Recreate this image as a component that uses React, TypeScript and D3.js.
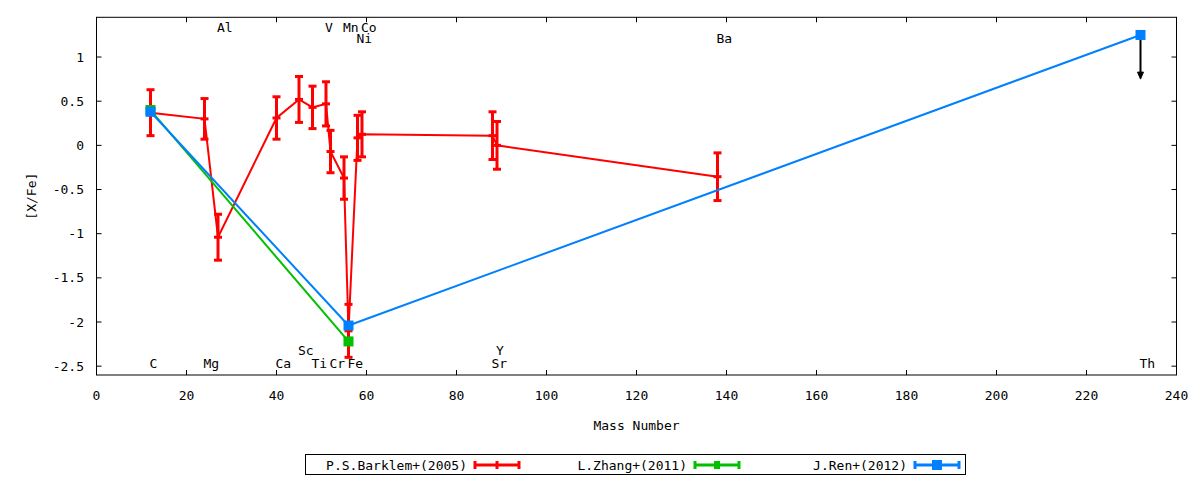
import React from 'react';
import * as d3 from 'd3';

// ---- data ----
const barklemMass = [12, 24, 27, 40, 45, 48, 51, 52, 55, 56, 58, 59, 88, 89, 138];
const barklemValue = [0.37, 0.30, -1.04, 0.31, 0.52, 0.43, 0.47, -0.07, -0.37, -2.10, 0.085, 0.125, 0.11, 0.0, -0.355];
const barklemError = [0.26, 0.23, 0.26, 0.24, 0.26, 0.24, 0.25, 0.24, 0.24, 0.30, 0.255, 0.255, 0.27, 0.27, 0.27];

const zhangMass = [12, 56];
const zhangValue = [0.40, -2.22];

const renMass = [12, 56, 232];
const renValue = [0.38, -2.04, 1.25];
const renUpperLimit = [false, false, true];
const upperLimitLength = 0.5;

const elementNames = ['Al', 'V', 'Mn', 'Co', 'Ni', 'Ba', 'C', 'Mg', 'Ca', 'Ti', 'Cr', 'Fe', 'Sr', 'Th', 'Sc', 'Y'];
const elementMass = [27, 51, 55, 59, 58, 138, 12, 24, 40, 48, 52, 56, 88, 232, 45, 89];
const elementLabelY = [1.337, 1.337, 1.337, 1.337, 1.213, 1.213, -2.468, -2.468, -2.468, -2.468, -2.468, -2.468, -2.468, -2.468, -2.317, -2.317];

const xTicks = d3.range(0, 241, 20);
const yTicks = [-2.5, -2, -1.5, -1, -0.5, 0, 0.5, 1];

const seriesNames = ['P.S.Barklem+(2005)', 'L.Zhang+(2011)', 'J.Ren+(2012)'];
const seriesColors = ['#ff0000', '#00c000', '#0080ff'];

const FONT = '"DejaVu Sans Mono", monospace';

export default function App() {
  const W = 1200, H = 480;
  const left = 96.5, right = 1176.5, top = 17.3, bottom = 375;
  const x = d3.scaleLinear().domain([0, 240]).range([left, right]);
  const y = d3.scaleLinear().domain([-2.6, 1.45]).range([bottom, top]);
  const tl = 5;
  const cap = 4;

  const line = d3.line<[number, number]>().x(d => x(d[0])).y(d => y(d[1]));
  const barkPts: [number, number][] = barklemMass.map((m, i) => [m, barklemValue[i]]);
  const zhangPts: [number, number][] = zhangMass.map((m, i) => [m, zhangValue[i]]);
  const renPts: [number, number][] = renMass.map((m, i) => [m, renValue[i]]);

  const legendY = 465;
  const legendEnds = [467, 687, 907];

  return (
    <svg width={W} height={H} style={{ position: 'absolute', left: 0, top: 0, background: '#fff' }}
      fontFamily={FONT} fontSize={13}>
      <rect x={0} y={0} width={W} height={H} fill="#fff" />
      {/* element labels */}
      {elementNames.map((n, i) => (
        <text key={'el' + i} x={x(elementMass[i]) - 1} y={y(elementLabelY[i])} dominantBaseline="central" fill="#000">{n}</text>
      ))}
      {/* ticks */}
      {xTicks.map(t => (
        <g key={'xt' + t}>
          <line x1={x(t)} x2={x(t)} y1={bottom} y2={bottom - tl} stroke="#000" />
          <line x1={x(t)} x2={x(t)} y1={top} y2={top + tl} stroke="#000" />
          <text x={x(t)} y={395} textAnchor="middle" dominantBaseline="central">{t}</text>
        </g>
      ))}
      {yTicks.map(t => (
        <g key={'yt' + t}>
          <line x1={left} x2={left + tl} y1={y(t)} y2={y(t)} stroke="#000" />
          <line x1={right} x2={right - tl} y1={y(t)} y2={y(t)} stroke="#000" />
          <text x={84} y={y(t)} textAnchor="end" dominantBaseline="central">{t}</text>
        </g>
      ))}
      <text x={(left + right) / 2} y={425} textAnchor="middle" dominantBaseline="central">Mass Number</text>
      <text transform={`translate(31,${(top + bottom) / 2}) rotate(-90)`} textAnchor="middle" dominantBaseline="central">[X/Fe]</text>

      {/* Barklem */}
      <path d={line(barkPts) || ''} fill="none" stroke={seriesColors[0]} strokeWidth={2} />
      {barkPts.map((p, i) => {
        const cx = x(p[0]);
        const y1 = y(p[1] + barklemError[i]);
        const y2 = y(p[1] - barklemError[i]);
        return (
          <g key={'b' + i} stroke={seriesColors[0]} strokeWidth={3}>
            <line x1={cx} x2={cx} y1={y1} y2={y2} />
            <line x1={cx - cap} x2={cx + cap} y1={y1} y2={y1} />
            <line x1={cx - cap} x2={cx + cap} y1={y2} y2={y2} />
            <line x1={cx - cap} x2={cx + cap} y1={y(p[1])} y2={y(p[1])} />
          </g>
        );
      })}
      {/* Zhang */}
      <path d={line(zhangPts) || ''} fill="none" stroke={seriesColors[1]} strokeWidth={2} />
      {zhangPts.map((p, i) => (
        <rect key={'z' + i} x={x(p[0]) - 5} y={y(p[1]) - 5} width={10} height={10} fill={seriesColors[1]} />
      ))}
      {/* Ren */}
      <path d={line(renPts) || ''} fill="none" stroke={seriesColors[2]} strokeWidth={2} />
      {renPts.map((p, i) => renUpperLimit[i] ? (
        <g key={'ra' + i}>
          <line x1={x(p[0])} x2={x(p[0])} y1={y(p[1])} y2={y(p[1] - upperLimitLength) - 6} stroke="#000" strokeWidth={2} />
          <path d={`M${x(p[0]) - 3},${y(p[1] - upperLimitLength) - 7} L${x(p[0]) + 3},${y(p[1] - upperLimitLength) - 7} L${x(p[0])},${y(p[1] - upperLimitLength)} Z`} fill="#000" stroke="#000" strokeWidth={1} />
        </g>
      ) : null)}
      {renPts.map((p, i) => (
        <rect key={'r' + i} x={x(p[0]) - 5} y={y(p[1]) - 5} width={10} height={10} fill={seriesColors[2]} />
      ))}

      {/* frame */}
      <rect x={left} y={top} width={right - left} height={bottom - top} fill="none" stroke="#000" strokeWidth={1} />

      {/* legend */}
      <rect x={305.5} y={454.5} width={660} height={20} fill="none" stroke="#000" strokeWidth={1} />
      {seriesNames.map((n, i) => {
        const tx = legendEnds[i];
        const sx1 = tx + 8, sx2 = tx + 52, mid = (sx1 + sx2) / 2;
        const c = seriesColors[i];
        return (
          <g key={'lg' + i}>
            <text x={tx} y={legendY} textAnchor="end" dominantBaseline="central">{n}</text>
            <g stroke={c} strokeWidth={3}>
              <line x1={sx1} x2={sx2} y1={legendY} y2={legendY} />
              <line x1={sx1} x2={sx1} y1={legendY - 4} y2={legendY + 4} />
              <line x1={sx2} x2={sx2} y1={legendY - 4} y2={legendY + 4} />
              {i === 0 ? <line x1={mid} x2={mid} y1={legendY - 4} y2={legendY + 4} /> : null}
            </g>
            {i === 1 ? <rect x={mid - 3} y={legendY - 4} width={6} height={8} fill={c} /> : null}
            {i === 2 ? <rect x={mid - 5} y={legendY - 5} width={10} height={10} fill={c} /> : null}
          </g>
        );
      })}
    </svg>
  );
}
